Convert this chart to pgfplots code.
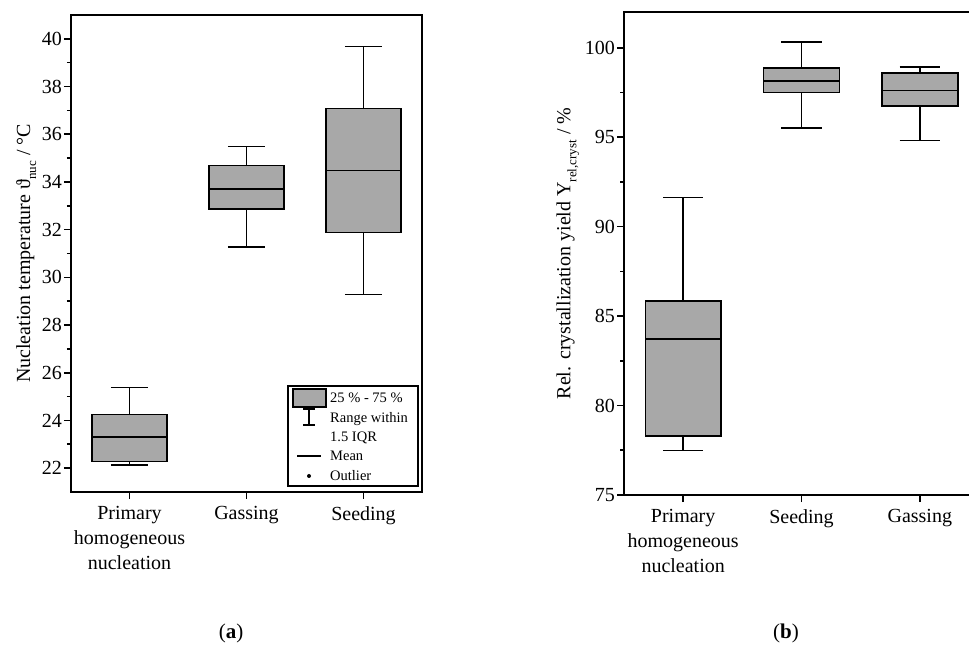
\documentclass[border=0pt]{standalone}
\usepackage{fontspec}
\setmainfont{Liberation Serif}
\usepackage{pgfplots}
\pgfplotsset{compat=1.18}
\usepgfplotslibrary{statistics}

\definecolor{boxgray}{RGB}{168,168,168}

\pgfplotsset{
  panel/.style={
    scale only axis, anchor=south west, clip=false,
    xmin=0.5, xmax=3.5, xtick={1,2,3},
    xtick pos=left, ytick pos=left, tick align=outside,
    axis line style={line width=1.6pt},
    every tick/.style={black, line width=1.6pt},
    major tick length=7pt, minor tick length=4pt,
    minor y tick num=1,
    tick label style={font=\fontsize{20}{25}\selectfont},
    x tick label style={align=center, yshift=-4pt},
    y tick label style={inner sep=2pt},
    label style={font=\fontsize{20}{24}\selectfont},
    /pgf/number format/assume math mode=true,
    boxplot/draw direction=y,
  },
  bx/.style={draw=black, line width=1.6pt, solid, mark=none,
    boxplot/every box/.style={fill=boxgray, line width=1.6pt},
    boxplot/every median/.style={line width=1.8pt},
    boxplot/every whisker/.style={line width=1.6pt}},
}

\begin{document}
\begin{tikzpicture}
% (a) nucleation temperature
\begin{axis}[panel, at={(71pt,153pt)}, width=351pt, height=477pt,
  ymin=21, ymax=41, ytick={22,24,...,40},
  xticklabels={Primary\\homogeneous\\nucleation, Gassing, Seeding},
  ylabel={Nucleation temperature ϑ\raisebox{-0.3em}{\fontsize{13}{13}\selectfont nuc} / °C}]
\addplot[bx, boxplot prepared={lower whisker=22.14, lower quartile=22.28, median=23.3,
  upper quartile=24.25, upper whisker=25.38, draw position=1,
  box extend=0.64, whisker extend=0.32}] coordinates {};
\addplot[bx, boxplot prepared={lower whisker=31.28, lower quartile=32.87, median=33.72,
  upper quartile=34.69, upper whisker=35.48, draw position=2,
  box extend=0.64, whisker extend=0.32}] coordinates {};
\addplot[bx, boxplot prepared={lower whisker=29.28, lower quartile=31.88, median=34.48,
  upper quartile=37.08, upper whisker=39.68, draw position=3,
  box extend=0.64, whisker extend=0.32}] coordinates {};
\end{axis}

% (b) relative crystallization yield
\begin{axis}[panel, at={(624pt,150pt)}, width=355pt, height=483pt,
  ymin=75, ymax=102, ytick={75,80,...,100},
  xticklabels={Primary\\homogeneous\\nucleation, Seeding, Gassing},
  ylabel={Rel. crystallization yield Y\raisebox{-0.3em}{\fontsize{13}{13}\selectfont rel,cryst} / \%}]
\addplot[bx, boxplot prepared={lower whisker=77.48, lower quartile=78.30, median=83.73,
  upper quartile=85.84, upper whisker=91.62, draw position=1,
  box extend=0.64, whisker extend=0.34}] coordinates {};
\addplot[bx, boxplot prepared={lower whisker=95.52, lower quartile=97.5, median=98.13,
  upper quartile=98.86, upper whisker=100.31, draw position=2,
  box extend=0.64, whisker extend=0.34}] coordinates {};
\addplot[bx, boxplot prepared={lower whisker=94.81, lower quartile=96.75, median=97.61,
  upper quartile=98.58, upper whisker=98.92, draw position=3,
  box extend=0.64, whisker extend=0.34}] coordinates {};
\end{axis}

% legend of (a)
\draw[line width=1.6pt] (288pt,159pt) rectangle (418pt,259pt);
\draw[line width=1.6pt, fill=boxgray] (293pt,238pt) rectangle (326pt,256pt);
\draw[line width=1.4pt] (309pt,236pt) -- (309pt,220pt)
  (303pt,236pt) -- (315pt,236pt) (303pt,220pt) -- (315pt,220pt);
\draw[line width=1.2pt] (297pt,189pt) -- (321pt,189pt);
\fill (309pt,169pt) circle (2pt);
\begin{scope}[every node/.style={anchor=base west, inner sep=0pt, font=\fontsize{14.5}{17}\selectfont}]
\node at (330pt,242pt) {25 \% - 75 \%};
\node at (330pt,222pt) {Range within};
\node at (330pt,203pt) {1.5 IQR};
\node at (330pt,184pt) {Mean};
\node at (330pt,164pt) {Outlier};
\end{scope}

% panel captions
\node[anchor=base, font=\fontsize{21}{24}\selectfont] at (231pt,6pt) {(\textbf{a})};
\node[anchor=base, font=\fontsize{21}{24}\selectfont] at (786pt,6pt) {(\textbf{b})};

\pgfresetboundingbox
\path[use as bounding box] (0pt,0pt) rectangle (969pt,645pt);
\end{tikzpicture}
\end{document}
